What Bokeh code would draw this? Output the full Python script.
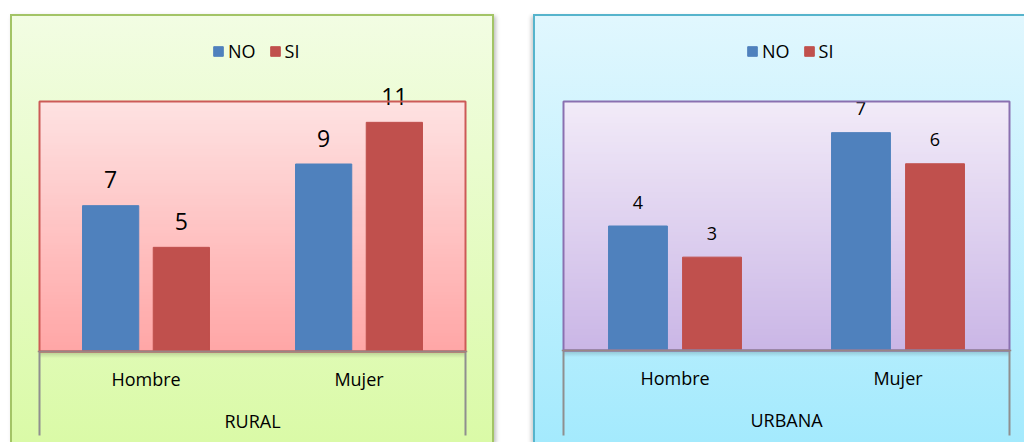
from bokeh.plotting import figure
from bokeh.models import (ColumnDataSource, FactorRange, Range1d, BoxAnnotation,
                          CategoricalAxis, Spacer)
from bokeh.layouts import row, column
from bokeh.transform import dodge
from bokeh.core.properties import value
from bokeh.embed import file_html
from bokeh.resources import INLINE

# ---------------- data ----------------
categories = ["Hombre", "Mujer"]
series = ["NO", "SI"]
groups = ["RURAL", "URBANA"]
rural_no = [7, 9]
rural_si = [5, 11]
urbana_no = [4, 7]
urbana_si = [3, 6]
rural_ymax = 12
urbana_ymax = 8

FONT = "Open Sans"
BLUE = "#4F81BD"
RED = "#C0504D"


def hex2rgb(h):
    h = h.lstrip("#")
    return tuple(int(h[i:i + 2], 16) for i in (0, 2, 4))


def lerp(c1, c2, t):
    a, b = hex2rgb(c1), hex2rgb(c2)
    return "#%02x%02x%02x" % tuple(int(round(a[i] + (b[i] - a[i]) * t)) for i in range(3))


def make_chart(group, no_vals, si_vals, ymax, width, bl, br, inner_w, inner_px, below_px,
               inner_top, inner_bot, inner_line, outer_css, label_size, label_off,
               legend_x):
    height = 428
    above_px = 87
    bot_b = 7
    pad_px = 2
    ppu = inner_px / ymax
    y_start = -below_px / ppu
    y_end = ymax + above_px / ppu
    ncat = len(categories)
    rp = pad_px / (inner_w / ncat)  # synthetic units per side
    p = figure(width=width, height=height, output_backend="svg", toolbar_location=None,
               x_range=FactorRange(factors=categories, range_padding=rp * 2 / ncat,
                                   range_padding_units="percent"),
               y_range=Range1d(y_start, y_end),
               x_axis_location=None, y_axis_location=None,
               min_border_left=bl - pad_px, min_border_right=br - pad_px,
               min_border_top=0, min_border_bottom=bot_b)
    p.extra_x_ranges = {"grp": FactorRange(factors=[group], range_padding=0)}
    p.outline_line_color = None
    p.background_fill_alpha = 0
    p.border_fill_alpha = 0
    p.xgrid.visible = False
    p.ygrid.visible = False
    p.styles = outer_css

    x0, x1 = 0, ncat  # synthetic extent of the category range
    # inner plot-area gradient
    n = 80
    step = ymax / n
    for i in range(n):
        b = i * step
        t = min(ymax, b + step * 1.3)
        col = lerp(inner_bot, inner_top, (i + 0.5) / n)
        p.add_layout(BoxAnnotation(left=x0, right=x1, bottom=b, top=t, fill_color=col,
                                   fill_alpha=1, line_color=None, level="underlay"))
    # soft shadow beneath the plot area
    sh = 6
    for k in range(sh):
        b = -(k + 1) / ppu
        t = -k / ppu
        p.add_layout(BoxAnnotation(left=x0, right=x1, bottom=b, top=t, fill_color="black",
                                   fill_alpha=0.18 * (1 - k / sh), line_color=None,
                                   level="underlay"))
    # vertical separators of the category axis
    p.add_layout(BoxAnnotation(left=x0, right=x1, bottom=y_start - 20, top=0, fill_alpha=0,
                               line_color="#8f8f8f", line_alpha=1, line_width=2,
                               level="glyph"))
    # plot-area border
    p.add_layout(BoxAnnotation(left=x0, right=x1, bottom=0, top=ymax, fill_alpha=0,
                               line_color=inner_line, line_alpha=1, line_width=2,
                               level="glyph"))

    src = ColumnDataSource(dict(cat=categories, no=no_vals, si=si_vals,
                                no_lbl=[str(v) for v in no_vals],
                                si_lbl=[str(v) for v in si_vals]))
    off = 0.166
    bw = 0.264
    p.vbar(x=dodge("cat", -off, range=p.x_range), top="no", width=bw, source=src,
           fill_color=BLUE, line_color=BLUE, legend_label=series[0])
    p.vbar(x=dodge("cat", off, range=p.x_range), top="si", width=bw, source=src,
           fill_color=RED, line_color=RED, legend_label=series[1])
    for fld, d in (("no_lbl", -off), ("si_lbl", off)):
        ycol = fld.split("_")[0]
        p.text(x=dodge("cat", d, range=p.x_range), y=ycol, text=fld, source=src,
               text_align="center", text_baseline="alphabetic", y_offset=-label_off,
               text_font=value(FONT), text_font_size=label_size, text_color="#000000")

    ax = CategoricalAxis(fixed_location=0, axis_line_color="#9a8585", axis_line_width=1.5,
                         major_tick_line_color=None, major_tick_in=0, major_tick_out=0,
                         major_label_standoff=15, major_label_text_font=FONT,
                         major_label_text_font_size="18px",
                         major_label_text_color="#000000")
    p.add_layout(ax, "below")
    gx = CategoricalAxis(x_range_name="grp", fixed_location=0, axis_line_color=None,
                         major_tick_line_color=None, major_tick_in=0, major_tick_out=0,
                         major_label_standoff=57, major_label_text_font=FONT,
                         major_label_text_font_size="18px",
                         major_label_text_color="#000000")
    p.add_layout(gx, "below")

    lg = p.legend[0]
    lg.orientation = "horizontal"
    lg.location = (legend_x + pad_px, 372)
    lg.padding = 0
    lg.margin = 0
    lg.spacing = 13
    lg.label_standoff = 4
    lg.glyph_width = 12
    lg.glyph_height = 12
    lg.border_line_color = None
    lg.background_fill_alpha = 0
    lg.label_text_font = FONT
    lg.label_text_font_size = "18px"
    lg.label_text_color = "#000000"
    return p


p1 = make_chart(groups[0], rural_no, rural_si, rural_ymax, width=484, bl=29, br=29,
                inner_w=426, inner_px=250, below_px=84,
                inner_top="#FEE2E2", inner_bot="#FFA6A6", inner_line="#CC5A57",
                outer_css={"background": "linear-gradient(to bottom, #F2FDE3, #DAFAA7)",
                           "box-shadow": "inset 2px 0 0 #A3C466, inset -2px 0 0 #A3C466, "
                                         "inset 0 2px 0 #A3C466, 2px 2px 4px rgba(0,0,0,0.25)"},
                label_size="23px", label_off=26, legend_x=173)
p2 = make_chart(groups[1], urbana_no, urbana_si, urbana_ymax, width=491, bl=30, br=15,
                inner_w=446, inner_px=249, below_px=85,
                inner_top="#F2EBF8", inner_bot="#CAB6E6", inner_line="#8A70B0",
                outer_css={"background": "linear-gradient(to bottom, #E1F7FE, #A4EAFD)",
                           "box-shadow": "inset 2px 0 0 #56B4CC, inset 0 2px 0 #56B4CC, "
                                         "-2px 2px 4px rgba(0,0,0,0.2)"},
                label_size="18px", label_off=24, legend_x=183)

layout = column(Spacer(height=14),
                row(Spacer(width=10), p1, Spacer(width=39), p2))

open("out.html", "w").write(file_html(layout, INLINE))
